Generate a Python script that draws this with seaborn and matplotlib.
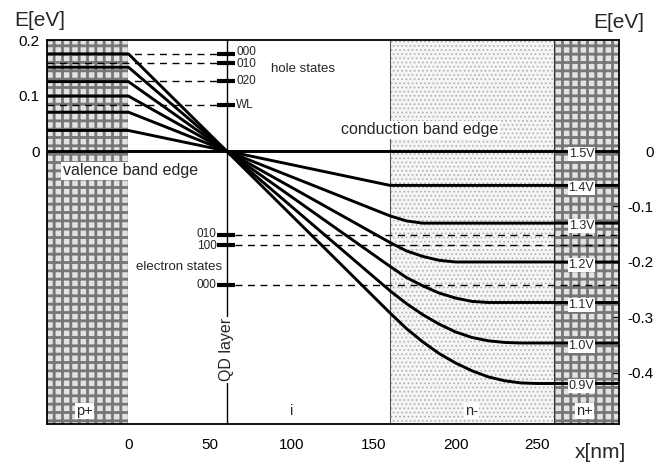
import matplotlib
matplotlib.use("Agg")
import matplotlib.pyplot as plt
import numpy as np
import pandas as pd
import seaborn as sns

# ---------------- data ----------------
x_nm = [-50, 0, 60, 160, 170, 180, 190, 200, 210, 220, 230, 240, 250, 260, 300]
voltages = ["0.9V", "1.0V", "1.1V", "1.2V", "1.3V", "1.4V", "1.5V"]
E_09 = [0.175, 0.175, 0.0, -0.292, -0.320, -0.344, -0.365, -0.382, -0.396, -0.407, -0.414, -0.418, -0.419, -0.419, -0.419]
E_10 = [0.151, 0.151, 0.0, -0.252, -0.275, -0.295, -0.312, -0.326, -0.336, -0.342, -0.345, -0.346, -0.346, -0.346, -0.346]
E_11 = [0.125, 0.125, 0.0, -0.208, -0.228, -0.243, -0.256, -0.265, -0.271, -0.273, -0.273, -0.273, -0.273, -0.273, -0.273]
E_12 = [0.099, 0.099, 0.0, -0.165, -0.180, -0.190, -0.197, -0.200, -0.200, -0.200, -0.200, -0.200, -0.200, -0.200, -0.200]
E_13 = [0.070, 0.070, 0.0, -0.117, -0.126, -0.130, -0.130, -0.130, -0.130, -0.130, -0.130, -0.130, -0.130, -0.130, -0.130]
E_14 = [0.037, 0.037, 0.0, -0.062, -0.062, -0.062, -0.062, -0.062, -0.062, -0.062, -0.062, -0.062, -0.062, -0.062, -0.062]
E_15 = [0.0, 0.0, 0.0, 0.0, 0.0, 0.0, 0.0, 0.0, 0.0, 0.0, 0.0, 0.0, 0.0, 0.0, 0.0]
band_values = [E_09, E_10, E_11, E_12, E_13, E_14, E_15]
right_levels = [-0.419, -0.346, -0.273, -0.200, -0.130, -0.062, 0.0]

hole_states = ["000", "010", "020", "WL"]
hole_E = [0.175, 0.158, 0.126, 0.083]
electron_states = ["010", "100", "000"]
electron_E = [-0.152, -0.169, -0.242]

qd_x = 60
region_names = ["p+", "i", "n-", "n+"]
region_bounds = [(-50, 0), (0, 160), (160, 260), (260, 300)]

x_ticks = [0, 50, 100, 150, 200, 250]
left_yticks = [0, 0.1, 0.2]
left_yticklabels = ["0", "0.1", "0.2"]
right_yticks = [0, -0.1, -0.2, -0.3, -0.4]
right_yticklabels = ["0", "-0.1", "-0.2", "-0.3", "-0.4"]

# ---------------- style ----------------
sns.set_style("white")
plt.rcParams["font.family"] = ["Liberation Sans", "DejaVu Sans"]

fig = plt.figure(figsize=(6.69, 4.66), dpi=100)
ax = fig.add_axes([0.0698, 0.0901, 0.8555, 0.824])
ax.set_xlim(-50, 300)
ax.set_ylim(-0.492, 0.2)

# regions
(p0, p1), _, (m0, m1), (n0, n1) = region_bounds
with plt.rc_context({"hatch.linewidth": 2.0}):
    for a, b in [(p0, p1), (n0, n1)]:
        ax.axvspan(a, b, facecolor="#e2e2e2", edgecolor="#767676", hatch="++", linewidth=0, zorder=0)
with plt.rc_context({"hatch.linewidth": 0.7}):
    ax.axvspan(m0, m1, facecolor="#f5f5f5", edgecolor="#b0b0b0", hatch="....", linewidth=0, zorder=0)
ax.axvline(m0, color="#555555", lw=0.8, zorder=1)
ax.axvline(n0, color="#333333", lw=0.8, zorder=1)

# QD layer
ax.axvline(qd_x, color="black", lw=1.0, zorder=2)

# band lines
df = pd.DataFrame({
    "x": x_nm * len(voltages),
    "E": sum(band_values, []),
    "V": np.repeat(voltages, len(x_nm)),
})
sns.lineplot(data=df, x="x", y="E", units="V", estimator=None, sort=False,
             color="black", lw=2.1, ax=ax, legend=False, zorder=3)

# hole states
hole_nudge = [0.003, -0.002, 0.0, 0.0]
for name, e, dn in zip(hole_states, hole_E, hole_nudge):
    ax.plot([-50, 54], [e, e], color="black", lw=1.0, dashes=(5, 4), zorder=2)
    ax.plot([54, 65], [e, e], color="black", lw=3.0, solid_capstyle="butt", zorder=4)
    ax.text(66, e + dn, name, fontsize=8.5, va="center", ha="left", zorder=5)
ax.text(107, 0.148, "hole states", fontsize=9.5, ha="center", va="center")

# electron states
el_nudge = [0.003, -0.002, 0.0]
for name, e, dn in zip(electron_states, electron_E, el_nudge):
    ax.plot([65, 300], [e, e], color="black", lw=1.0, dashes=(5, 4), zorder=2)
    ax.plot([54, 65], [e, e], color="black", lw=3.0, solid_capstyle="butt", zorder=4)
    ax.text(54, e + dn, name, fontsize=8.5, va="center", ha="right", zorder=5)
ax.text(57, -0.209, "electron states", fontsize=9.5, ha="right", va="center")

# voltage labels
box = dict(facecolor="white", edgecolor="none", pad=0.6)
for v, lev in zip(voltages, right_levels):
    ax.text(277, lev - 0.005, v, fontsize=9, ha="center", va="center", bbox=box, zorder=6)

# band edge labels
box2 = dict(facecolor="white", edgecolor="none", pad=1.0)
ax.text(1, -0.036, "valence band edge", fontsize=11.5, ha="center", va="center", bbox=box2, zorder=6)
ax.text(178, 0.038, "conduction band edge", fontsize=11.5, ha="center", va="center", bbox=box2, zorder=6)
ax.text(qd_x, -0.358, "QD layer", fontsize=11.5, rotation=90, ha="center", va="center", bbox=box2, zorder=6)

# region labels
region_centers = [-27, 100, 210, 279]
for name, cx in zip(region_names, region_centers):
    ax.text(cx, -0.468, name, fontsize=10.5, ha="center", va="center", bbox=box, zorder=6)

# axes / ticks
for s in ax.spines.values():
    s.set_color("black")
    s.set_linewidth(1.3)
ax.set_xticks(x_ticks)
ax.set_xticklabels([str(t) for t in x_ticks])
ax.set_yticks(left_yticks)
ax.set_yticklabels(left_yticklabels)
ax.tick_params(axis="both", direction="in", length=4, width=1, labelsize=11, colors="black")
ax.tick_params(axis="x", pad=10)
ax.tick_params(axis="y", pad=5)
ax.set_xlabel("")
ax.set_ylabel("")

ax2 = ax.twinx()
ax2.set_ylim(ax.get_ylim())
ax2.set_yticks(right_yticks)
ax2.set_yticklabels(right_yticklabels)
ax2.tick_params(axis="y", direction="in", length=4, width=1, labelsize=11, pad=25, colors="black")
for lbl in ax2.get_yticklabels():
    lbl.set_horizontalalignment("right")
for s in ax2.spines.values():
    s.set_visible(False)

fig.text(40 / 669, 1 - 20 / 466, "E[eV]", fontsize=15, ha="center", va="center")
fig.text(619 / 669, 1 - 22 / 466, "E[eV]", fontsize=15, ha="center", va="center")
fig.text(600 / 669, 1 - 453 / 466, "x[nm]", fontsize=15, ha="center", va="center")

fig.savefig("out.png", dpi=100)
